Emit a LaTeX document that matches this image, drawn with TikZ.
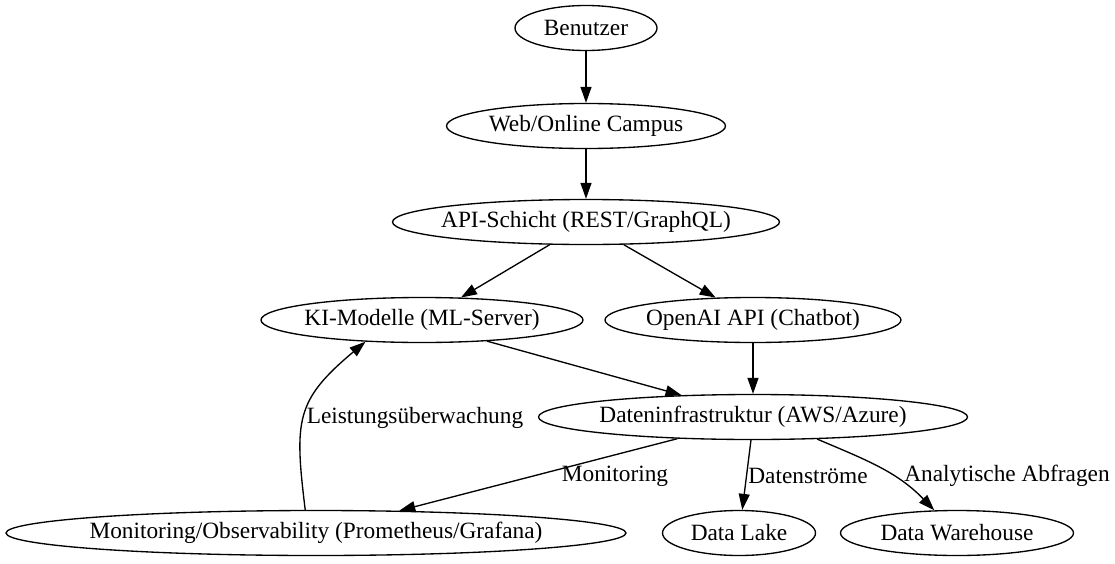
\documentclass[tikz,border=0pt]{standalone}
\usepackage{fontspec}
\setmainfont{Liberation Serif}
\usetikzlibrary{shapes.geometric,arrows.meta}
\begin{document}
\begin{tikzpicture}[x=0.6pt,y=-0.6pt,
      every node/.style={font=\fontsize{14}{16}\selectfont},
      blob/.style={ellipse, draw, line width=0.8pt, inner xsep=-20pt, inner ysep=0pt, minimum height=27pt},
      edge/.style={-{Triangle[length=9.6pt,width=6.6pt]}, line width=0.8pt}]
      \useasboundingbox (0,0) rectangle (1115,564);

      \node[blob, minimum width=85.2pt]  (ben)  at (586,28)  {Benutzer};
      \node[blob, minimum width=167.4pt] (web)  at (586,126) {Web/Online Campus};
      \node[blob, minimum width=232.2pt] (api)  at (586,222) {API-Schicht (REST/GraphQL)};
      \node[blob, minimum width=193.2pt] (ki)   at (422,320) {KI-Modelle (ML-Server)};
      \node[blob, minimum width=177.6pt] (oai)  at (753,320) {OpenAI API (Chatbot)};
      \node[blob, minimum width=257.4pt] (dat)  at (753,417) {Dateninfrastruktur (AWS/Azure)};
      \node[blob, minimum width=372pt]   (mon)  at (316,533) {Monitoring/Observability (Prometheus/Grafana)};
      \node[blob, minimum width=91.8pt]  (lake) at (739,533) {Data Lake};
      \node[blob, minimum width=139.8pt] (wh)   at (957,533) {Data Warehouse};

      \draw[edge] (ben) -- (web);
      \draw[edge] (web) -- (api);
      \draw[edge] (api.212) -- (ki.30);
      \draw[edge] (api.329) -- (oai.149);
      \draw[edge] (ki.342) -- (dat.163);
      \draw[edge] (oai) -- (dat);
      \draw[edge] (dat.196) -- (mon.15);
      \draw[edge] (dat.265) -- (lake.82);
      \draw[edge] (dat.341) to[out=-23, in=134] (wh.135);
      \draw[edge] (mon.115) to[out=97, in=220, looseness=1.3] (ki.201);

      % Kantenbeschriftungen
      \node (lleist) at (415,418)  {Leistungsüberwachung};
      \node (lmon)   at (615,476)  {Monitoring};
      \node (lstrom) at (808,476)  {Datenströme};
      \node (lana)   at (1007,476) {Analytische Abfragen};
\end{tikzpicture}
\end{document}
